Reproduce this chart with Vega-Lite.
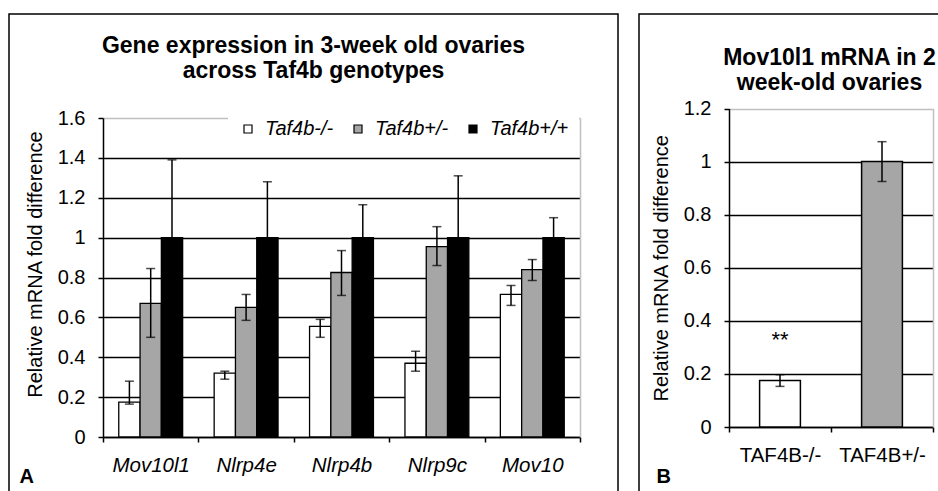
{
  "$schema": "https://vega.github.io/schema/vega-lite/v6.json",
  "background": "white",
  "padding": {"left": 8, "top": 13, "right": 0, "bottom": 0},
  "spacing": 19,
  "resolve": {"scale": {"color": "independent"}, "legend": {"color": "independent"}},
  "config": {
    "font": "Liberation Sans",
    "axis": {"labelColor": "black", "titleColor": "black", "tickColor": "black", "domainColor": "black", "domainWidth": 1.5, "tickWidth": 1.5, "tickSize": 5}
  },
  "hconcat": [
    {
      "width": 609,
      "height": 487,
      "view": {"stroke": "black", "strokeWidth": 1.5, "fill": "white"},
      "title": {
        "text": ["Gene expression in 3-week old ovaries", "across Taf4b genotypes"],
        "fontSize": 23, "fontWeight": "bold", "color": "black", "lineHeight": 25,
        "anchor": "middle", "offset": -69
      },
      "data": {"values": [
        {"gene": "Mov10l1", "genotype": "Taf4b-/-", "mean": 0.175, "lo": 0.165, "hi": 0.28},
        {"gene": "Mov10l1", "genotype": "Taf4b+/-", "mean": 0.67, "lo": 0.5, "hi": 0.845},
        {"gene": "Mov10l1", "genotype": "Taf4b+/+", "mean": 1.0, "lo": 0.61, "hi": 1.39},
        {"gene": "Nlrp4e", "genotype": "Taf4b-/-", "mean": 0.32, "lo": 0.29, "hi": 0.33},
        {"gene": "Nlrp4e", "genotype": "Taf4b+/-", "mean": 0.65, "lo": 0.585, "hi": 0.715},
        {"gene": "Nlrp4e", "genotype": "Taf4b+/+", "mean": 1.0, "lo": 0.72, "hi": 1.28},
        {"gene": "Nlrp4b", "genotype": "Taf4b-/-", "mean": 0.555, "lo": 0.5, "hi": 0.59},
        {"gene": "Nlrp4b", "genotype": "Taf4b+/-", "mean": 0.825, "lo": 0.71, "hi": 0.935},
        {"gene": "Nlrp4b", "genotype": "Taf4b+/+", "mean": 1.0, "lo": 0.835, "hi": 1.165},
        {"gene": "Nlrp9c", "genotype": "Taf4b-/-", "mean": 0.37, "lo": 0.33, "hi": 0.43},
        {"gene": "Nlrp9c", "genotype": "Taf4b+/-", "mean": 0.955, "lo": 0.86, "hi": 1.055},
        {"gene": "Nlrp9c", "genotype": "Taf4b+/+", "mean": 1.0, "lo": 0.69, "hi": 1.31},
        {"gene": "Mov10", "genotype": "Taf4b-/-", "mean": 0.715, "lo": 0.66, "hi": 0.76},
        {"gene": "Mov10", "genotype": "Taf4b+/-", "mean": 0.84, "lo": 0.785, "hi": 0.89},
        {"gene": "Mov10", "genotype": "Taf4b+/+", "mean": 1.0, "lo": 0.9, "hi": 1.1}
      ]},
      "encoding": {
        "x": {
          "field": "gene", "type": "nominal",
          "sort": ["Mov10l1", "Nlrp4e", "Nlrp4b", "Nlrp9c", "Mov10"],
          "scale": {"range": [94, 571], "paddingInner": 0, "paddingOuter": 0},
          "axis": {
            "orient": "bottom", "offset": -64, "tickBand": "extent", "labelAngle": 0,
            "labelFontSize": 20.5, "labelFontStyle": "italic", "labelPadding": 13,
            "grid": false,
            "title": "A", "titleX": 10, "titleY": 45, "titleAlign": "left", "titleBaseline": "alphabetic",
            "titleFontSize": 20, "titleFontWeight": "bold", "titleAngle": 0
          }
        },
        "xOffset": {
          "field": "genotype", "type": "nominal",
          "sort": ["Taf4b-/-", "Taf4b+/-", "Taf4b+/+"],
          "scale": {"paddingOuter": 0.74, "paddingInner": 0}
        }
      },
      "layer": [
        {
          "mark": {"type": "bar", "stroke": "black", "strokeWidth": 1.3},
          "encoding": {
            "y": {
              "field": "mean", "type": "quantitative",
              "scale": {"domain": [0, 1.6], "range": [423, 104], "nice": false},
              "axis": {
                "orient": "left", "offset": -94,
                "values": [0, 0.2, 0.4, 0.6, 0.8, 1, 1.2, 1.4, 1.6], "format": "~g",
                "labelFontSize": 20, "labelPadding": 13,
                "grid": true, "gridWidth": 1.4,
                "gridColor": {"condition": {"test": "datum.value >= 1.59", "value": "#c0c0c0"}, "value": "black"},
                "title": "Relative mRNA fold difference", "titleFontSize": 20, "titleFontWeight": "normal", "titlePadding": 12,
                "titleY": 250
              }
            },
            "color": {
              "field": "genotype", "type": "nominal",
              "sort": ["Taf4b-/-", "Taf4b+/-", "Taf4b+/+"],
              "scale": {"domain": ["Taf4b-/-", "Taf4b+/-", "Taf4b+/+"], "range": ["#ffffff", "#a6a6a6", "#000000"]},
              "legend": {
                "orient": "none", "legendX": 219, "legendY": 95, "direction": "horizontal",
                "title": null, "fillColor": "white", "padding": 10,
                "labelFontSize": 20, "labelFontStyle": "italic", "labelColor": "black",
                "symbolType": "square", "symbolSize": 64, "symbolStrokeColor": "black", "symbolStrokeWidth": 1.2,
                "symbolOpacity": 1, "labelOffset": 7, "columnPadding": 14
              }
            }
          }
        },
        {
          "mark": {"type": "rule", "color": "black", "strokeWidth": 1.5},
          "encoding": {
            "y": {"field": "lo", "type": "quantitative", "axis": null},
            "y2": {"field": "hi"}
          }
        },
        {
          "mark": {"type": "tick", "color": "black", "size": 9, "thickness": 1.5},
          "encoding": {"y": {"field": "lo", "type": "quantitative", "axis": null}}
        },
        {
          "mark": {"type": "tick", "color": "black", "size": 9, "thickness": 1.5},
          "encoding": {"y": {"field": "hi", "type": "quantitative",
            "axis": {"orient": "right", "offset": -38, "domainColor": "#c0c0c0", "domainWidth": 1.5, "labels": false, "ticks": false, "grid": false, "title": null}}}
        }
      ],
      "resolve": {"axis": {"y": "independent"}}
    },
    {
      "width": 307,
      "height": 487,
      "view": {"stroke": "black", "strokeWidth": 1.5, "fill": "white"},
      "title": {
        "text": ["Mov10l1 mRNA in 2", "week-old ovaries"],
        "fontSize": 23, "fontWeight": "bold", "color": "black", "lineHeight": 25,
        "anchor": "middle", "offset": -81, "dx": 37
      },
      "data": {"values": [
        {"group": "TAF4B-/-", "mean": 0.175, "lo": 0.153, "hi": 0.197, "sig": "**"},
        {"group": "TAF4B+/-", "mean": 1.0, "lo": 0.925, "hi": 1.075, "sig": ""}
      ]},
      "encoding": {
        "x": {
          "field": "group", "type": "nominal", "sort": ["TAF4B-/-", "TAF4B+/-"],
          "scale": {"range": [90, 294], "paddingInner": 0, "paddingOuter": 0},
          "axis": {
            "orient": "bottom", "offset": -74, "tickBand": "extent", "labelAngle": 0,
            "labelFontSize": 20.5, "labelPadding": 13, "grid": false,
            "title": "B", "titleX": 17, "titleY": 55, "titleAlign": "left", "titleBaseline": "alphabetic",
            "titleFontSize": 20, "titleFontWeight": "bold", "titleAngle": 0
          }
        }
      },
      "layer": [
        {
          "mark": {"type": "bar", "stroke": "black", "strokeWidth": 1.5, "width": {"band": 0.4}},
          "encoding": {
            "y": {
              "field": "mean", "type": "quantitative",
              "scale": {"domain": [0, 1.2], "range": [413, 94.5], "nice": false},
              "axis": {
                "orient": "left", "offset": -90,
                "values": [0, 0.2, 0.4, 0.6, 0.8, 1, 1.2], "format": "~g",
                "labelFontSize": 20, "labelPadding": 13,
                "grid": true, "gridWidth": 1.4,
                "gridColor": {"condition": {"test": "datum.value >= 1.19", "value": "#c0c0c0"}, "value": "black"},
                "title": "Relative mRNA fold difference", "titleFontSize": 20, "titleFontWeight": "normal", "titlePadding": 12
              }
            },
            "color": {
              "field": "group", "type": "nominal",
              "scale": {"domain": ["TAF4B-/-", "TAF4B+/-"], "range": ["#ffffff", "#a6a6a6"]},
              "legend": null
            }
          }
        },
        {
          "mark": {"type": "rule", "color": "black", "strokeWidth": 1.5},
          "encoding": {
            "y": {"field": "lo", "type": "quantitative", "axis": null},
            "y2": {"field": "hi"}
          }
        },
        {
          "mark": {"type": "tick", "color": "black", "size": 9, "thickness": 1.5},
          "encoding": {"y": {"field": "lo", "type": "quantitative", "axis": null}}
        },
        {
          "mark": {"type": "tick", "color": "black", "size": 9, "thickness": 1.5},
          "encoding": {"y": {"field": "hi", "type": "quantitative",
            "axis": {"orient": "right", "offset": -13, "domainColor": "#c0c0c0", "domainWidth": 1.5, "labels": false, "ticks": false, "grid": false, "title": null}}}
        },
        {
          "mark": {"type": "text", "fontSize": 22, "dy": -35, "color": "black", "baseline": "middle"},
          "encoding": {
            "y": {"field": "hi", "type": "quantitative", "axis": null},
            "text": {"field": "sig"}
          }
        }
      ],
      "resolve": {"axis": {"y": "independent"}}
    }
  ]
}
